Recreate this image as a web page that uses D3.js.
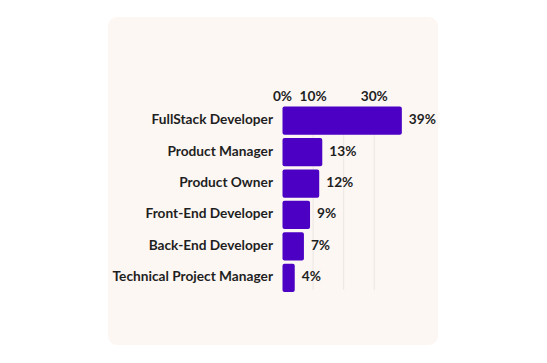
<!DOCTYPE html>
<html>
<head>
<meta charset="utf-8">
<script src="https://cdn.jsdelivr.net/npm/d3@7"></script>
<style>
  html, body { margin: 0; padding: 0; background: #ffffff; }
  svg { display: block; }
</style>
</head>
<body>
<div id="chart"></div>
<script>
// ── Roles share: horizontal bar chart on a soft card ─────────────────────────
const roles  = ["FullStack Developer", "Product Manager", "Product Owner",
                "Front-End Developer", "Back-End Developer", "Technical Project Manager"];
const shares = [39, 13, 12, 9, 7, 4];
const tickLabels = [0, 10, 30];
const gridValues = [10, 20, 30];

const W = 547, H = 363;
const FONT = "Lato, 'Open Sans', sans-serif";
const FS = 13.7;

const svg = d3.select("#chart").append("svg")
  .attr("width", W).attr("height", H);

// card
svg.append("rect")
  .attr("x", 108).attr("y", 17)
  .attr("width", 330).attr("height", 328)
  .attr("rx", 9)
  .attr("fill", "#fdf7f4");

const x = d3.scaleLinear().domain([0, 10]).range([282.5, 313.1]);
const y = d3.scaleBand().domain(roles).range([106.5, 292]).paddingInner(0.1).paddingOuter(0);

// gridlines
svg.append("g").selectAll("line")
  .data(gridValues)
  .join("line")
  .attr("x1", d => x(d)).attr("x2", d => x(d))
  .attr("y1", y.range()[0]).attr("y2", y.range()[1] - 2)
  .attr("stroke", "#ece6e2")
  .attr("stroke-width", 1);

// top axis labels
svg.append("g").selectAll("text")
  .data(tickLabels)
  .join("text")
  .attr("x", d => x(d))
  .attr("y", 97)
  .attr("text-anchor", "middle")
  .attr("dominant-baseline", "middle")
  .attr("font-family", FONT)
  .attr("font-weight", 700)
  .attr("font-size", FS)
  .attr("fill", "#1f1f1f")
  .text(d => d + "%");

// bars
svg.append("g").selectAll("rect")
  .data(roles)
  .join("rect")
  .attr("x", x(0))
  .attr("y", d => y(d))
  .attr("width", (d, i) => x(shares[i]) - x(0))
  .attr("height", y.bandwidth())
  .attr("rx", 2)
  .attr("fill", "#4b00c3");

// category labels
svg.append("g").selectAll("text")
  .data(roles)
  .join("text")
  .attr("x", 273)
  .attr("y", d => y(d) + y.bandwidth() / 2)
  .attr("text-anchor", "end")
  .attr("dominant-baseline", "middle")
  .attr("font-family", FONT)
  .attr("font-weight", 700)
  .attr("font-size", FS)
  .attr("fill", "#1f1f1f")
  .text(d => d);

// value labels
svg.append("g").selectAll("text")
  .data(roles)
  .join("text")
  .attr("x", (d, i) => x(shares[i]) + 7)
  .attr("y", d => y(d) + y.bandwidth() / 2)
  .attr("dominant-baseline", "middle")
  .attr("font-family", FONT)
  .attr("font-weight", 700)
  .attr("font-size", FS)
  .attr("fill", "#1f1f1f")
  .text((d, i) => shares[i] + "%");
</script>
</body>
</html>
